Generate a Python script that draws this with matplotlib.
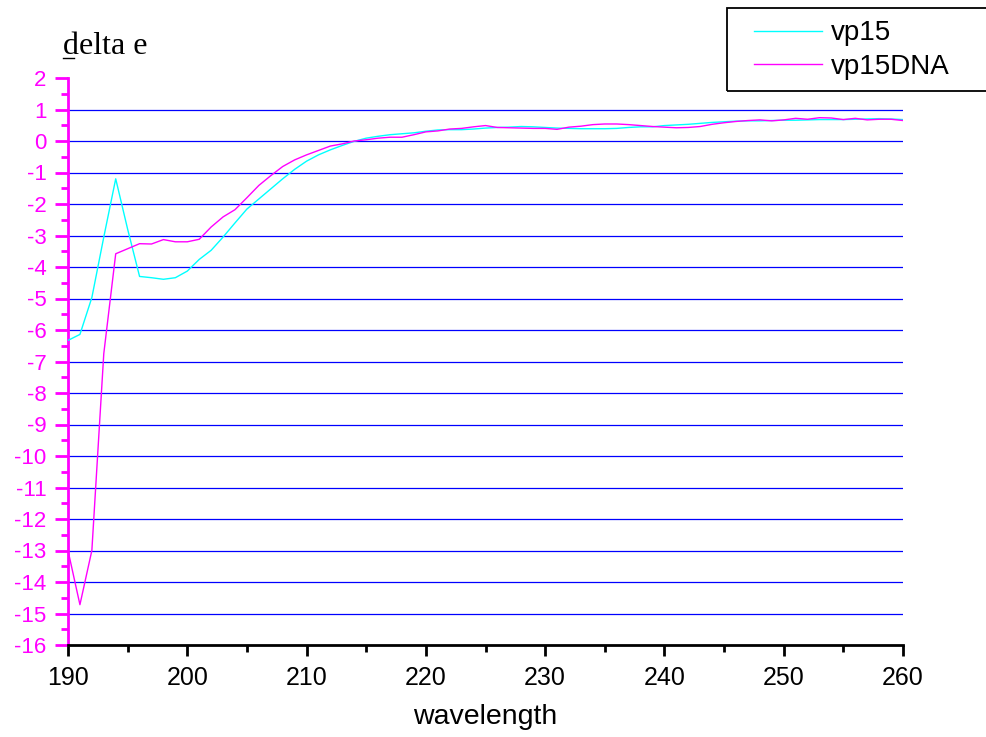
import numpy as np
import matplotlib.pyplot as plt
from matplotlib.ticker import MultipleLocator
from matplotlib.patches import Rectangle

plt.rcParams['axes.unicode_minus'] = False
plt.rcParams['font.family'] = ['Liberation Sans', 'DejaVu Sans']

# wavelength (nm), one point per nm
wavelength = np.arange(190, 261)

vp15 = [-6.33, -6.14, -4.97, -3.05, -1.2, -2.8, -4.3, -4.34, -4.39, -4.34,
        -4.13, -3.76, -3.47, -3.05, -2.6, -2.16, -1.84, -1.52, -1.2, -0.9,
        -0.64, -0.44, -0.28, -0.14, -0.01, 0.09, 0.15, 0.2, 0.23, 0.26,
        0.31, 0.35, 0.36, 0.36, 0.38, 0.41, 0.43, 0.44, 0.46, 0.45,
        0.43, 0.41, 0.40, 0.39, 0.39, 0.39, 0.40, 0.43, 0.45, 0.45,
        0.49, 0.51, 0.53, 0.56, 0.59, 0.61, 0.63, 0.64, 0.64, 0.65,
        0.66, 0.66, 0.67, 0.68, 0.68, 0.68, 0.69, 0.70, 0.71, 0.70,
        0.68]

vp15dna = [-13.0, -14.72, -13.0, -6.75, -3.58, -3.42, -3.26, -3.27, -3.13, -3.2,
           -3.2, -3.12, -2.73, -2.41, -2.18, -1.8, -1.41, -1.1, -0.81, -0.6,
           -0.44, -0.3, -0.16, -0.09, 0.0, 0.04, 0.09, 0.12, 0.12, 0.2,
           0.29, 0.32, 0.38, 0.40, 0.45, 0.49, 0.43, 0.42, 0.41, 0.40,
           0.40, 0.37, 0.44, 0.47, 0.52, 0.54, 0.54, 0.52, 0.49, 0.46,
           0.44, 0.42, 0.43, 0.46, 0.53, 0.58, 0.62, 0.65, 0.67, 0.64,
           0.67, 0.72, 0.69, 0.74, 0.73, 0.68, 0.72, 0.67, 0.69, 0.69,
           0.65]

grid_levels = list(range(-15, 2))

fig = plt.figure(figsize=(9.87, 7.37), dpi=100)
ax = fig.add_axes([68 / 987, 1 - 645 / 737, 835 / 987, 567 / 737])

# horizontal blue grid lines
ax.hlines(grid_levels, 190, 260, colors='#0000ff', linewidth=0.9, zorder=1)

l1, = ax.plot(wavelength, vp15, color='#00ffff', linewidth=1.0, label='vp15', zorder=3)
l2, = ax.plot(wavelength, vp15dna, color='#ff00ff', linewidth=1.0, label='vp15DNA', zorder=3)

ax.set_xlim(190, 260)
ax.set_ylim(-16, 2)

ax.spines['top'].set_visible(False)
ax.spines['right'].set_visible(False)
ax.spines['left'].set_color('#ff00ff')
ax.spines['left'].set_linewidth(2)
ax.spines['bottom'].set_color('black')
ax.spines['bottom'].set_linewidth(2)

ax.xaxis.set_major_locator(MultipleLocator(10))
ax.xaxis.set_minor_locator(MultipleLocator(5))
ax.yaxis.set_major_locator(MultipleLocator(1))
ax.yaxis.set_minor_locator(MultipleLocator(0.5))

ax.tick_params(axis='x', which='major', direction='out', length=8, width=2,
               color='black', labelsize=18, pad=7)
ax.tick_params(axis='x', which='minor', direction='out', length=5, width=2, color='black')
ax.tick_params(axis='y', which='major', direction='out', length=9.5, width=2,
               color='#ff00ff', labelcolor='#ff00ff', labelsize=16, pad=6)
ax.tick_params(axis='y', which='minor', direction='out', length=5, width=2, color='#ff00ff')

ax.set_xlabel('wavelength', fontsize=20.5, labelpad=10)

# y label above the axis, serif, with underlined d
fig.text(63 / 987, 1 - 54 / 737, 'delta e', family=['Liberation Serif', 'DejaVu Serif'],
         fontsize=23, ha='left', va='baseline')
fig.add_artist(plt.Line2D([63 / 987, 74 / 987], [1 - 58 / 737, 1 - 58 / 737],
                          color='black', linewidth=1))

# legend box reaching the right edge of the figure
fig.add_artist(Rectangle((727 / 987, 1 - 91 / 737), 0.3, 83 / 737, fill=False,
                         edgecolor='black', linewidth=1.3, transform=fig.transFigure))
leg = fig.legend(handles=[l1, l2], loc='center left', bbox_to_anchor=(754 / 987, 1 - 50 / 737),
                 fontsize=20, frameon=False,
                 handlelength=2.45, handletextpad=0.32, labelspacing=0.26,
                 borderpad=0, borderaxespad=0)

plt.savefig('out.png', dpi=100)
plt.close()
